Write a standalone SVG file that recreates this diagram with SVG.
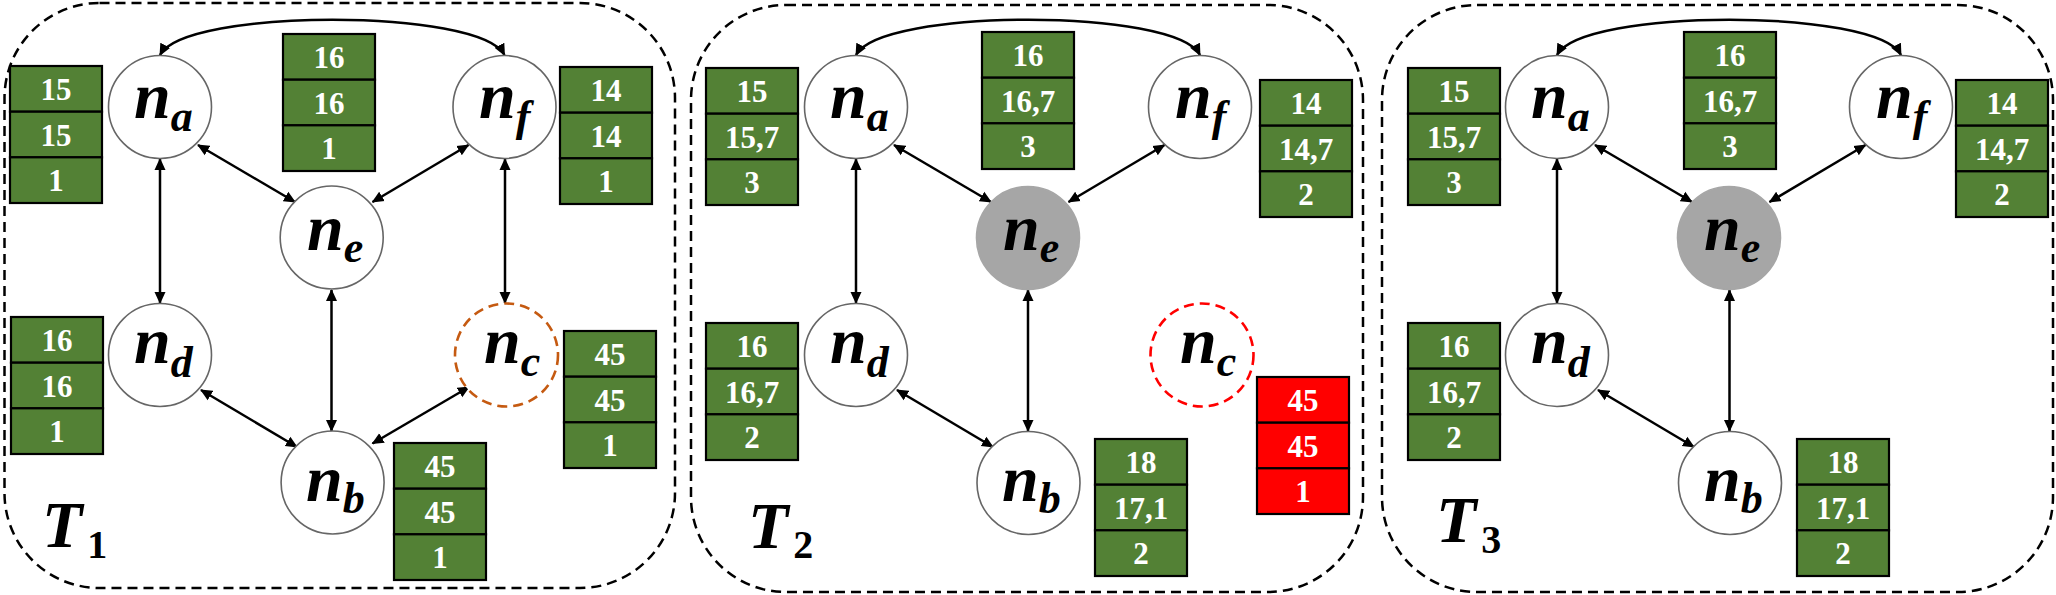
<svg xmlns="http://www.w3.org/2000/svg" width="2056" height="595" viewBox="0 0 2056 595">
<style>
.panel{fill:none;stroke:#000;stroke-width:2.5;stroke-dasharray:10 6}
.node{fill:#fff;stroke:#666;stroke-width:1.6}
.gray{fill:#A6A6A6;stroke:#A6A6A6;stroke-width:1.6}
.cdash1{fill:#fff;stroke:#C55A11;stroke-width:2.6;stroke-dasharray:10 6}
.cdash2{fill:#fff;stroke:#FF0000;stroke-width:2.6;stroke-dasharray:10 6}
.lbl{font-family:"Liberation Serif","Times New Roman",serif;font-weight:bold;font-style:italic;font-size:66px;fill:#000}
.sub{font-size:44px}
.subn{font-size:40px;font-style:normal}
.cell{fill:#538135;stroke:#000;stroke-width:2.2}
.cellr{fill:#FF0000;stroke:#000;stroke-width:2.2}
.num{font-family:"Liberation Serif","Times New Roman",serif;font-weight:bold;font-size:31px;fill:#fff;text-anchor:middle}
.con{fill:none;stroke:#000;stroke-width:2.5;marker-start:url(#ah);marker-end:url(#ah)}
</style>
<defs>
<marker id="ah" viewBox="0 0 12 12" markerWidth="12" markerHeight="12" markerUnits="userSpaceOnUse" refX="11" refY="6" orient="auto-start-reverse">
<path d="M0,0.5 L12,6 L0,11.5 z" fill="#000"/>
</marker>
</defs>

<g id="panels">
<rect class="panel" x="4.5" y="3" width="670.5" height="585" rx="95" ry="95"/>
<rect class="panel" x="691" y="5" width="672" height="587" rx="95" ry="95"/>
<rect class="panel" x="1382" y="5" width="671" height="587" rx="95" ry="95"/>
</g>

<g id="connectors">
<path class="con" d="M160,55 C185,8 480,8 504.5,55"/>
<line class="con" x1="198" y1="145" x2="295" y2="202"/>
<line class="con" x1="468.5" y1="145" x2="372.5" y2="202"/>
<line class="con" x1="160" y1="159" x2="160" y2="303"/>
<line class="con" x1="505" y1="159" x2="505" y2="303"/>
<line class="con" x1="331.5" y1="290" x2="331.5" y2="431"/>
<line class="con" x1="201" y1="390" x2="297" y2="447"/>
<line class="con" x1="469" y1="387" x2="372.5" y2="443.5"/>

<path class="con" d="M856,55 C881,8 1176,8 1200,55"/>
<line class="con" x1="894" y1="145" x2="991" y2="202"/>
<line class="con" x1="1164.5" y1="145" x2="1068.5" y2="202"/>
<line class="con" x1="856" y1="159" x2="856" y2="303"/>
<line class="con" x1="1028" y1="290" x2="1028" y2="431"/>
<line class="con" x1="897" y1="390" x2="993" y2="447"/>

<path class="con" d="M1557,55 C1582,8 1877,8 1901,55"/>
<line class="con" x1="1595" y1="145" x2="1692" y2="202"/>
<line class="con" x1="1865.5" y1="145" x2="1769.5" y2="202"/>
<line class="con" x1="1557" y1="159" x2="1557" y2="303"/>
<line class="con" x1="1729.5" y1="290" x2="1729.5" y2="431"/>
<line class="con" x1="1598" y1="390" x2="1694" y2="447"/>
</g>

<!-- Panel 1 nodes -->
<g id="t1-na"><circle class="node" cx="160" cy="107" r="51.5"/><text class="lbl" x="134" y="118">n<tspan class="sub" dy="13">a</tspan></text></g>
<g id="t1-nf"><circle class="node" cx="504.5" cy="107" r="51.5"/><text class="lbl" x="479" y="118">n<tspan class="sub" dy="13">f</tspan></text></g>
<g id="t1-ne"><circle class="node" cx="331.7" cy="237.5" r="51.5"/><text class="lbl" x="307" y="250">n<tspan class="sub" dy="12">e</tspan></text></g>
<g id="t1-nd"><circle class="node" cx="160" cy="355" r="51.5"/><text class="lbl" x="134" y="363">n<tspan class="sub" dy="14">d</tspan></text></g>
<g id="t1-nc"><circle class="cdash1" cx="506.5" cy="355" r="51.5"/><text class="lbl" x="484" y="363">n<tspan class="sub" dy="13">c</tspan></text></g>
<g id="t1-nb"><circle class="node" cx="332.6" cy="482.5" r="51.5"/><text class="lbl" x="306" y="501">n<tspan class="sub" dy="12">b</tspan></text></g>
<g id="t1-label"><text class="lbl" x="42" y="547" font-size="56">T<tspan class="subn" dx="5" dy="11">1</tspan></text></g>

<!-- Panel 2 nodes -->
<g id="t2-na"><circle class="node" cx="856" cy="107" r="51.5"/><text class="lbl" x="830" y="118">n<tspan class="sub" dy="13">a</tspan></text></g>
<g id="t2-nf"><circle class="node" cx="1200" cy="107" r="51.5"/><text class="lbl" x="1175" y="118">n<tspan class="sub" dy="13">f</tspan></text></g>
<g id="t2-ne"><circle class="gray" cx="1028" cy="238" r="51.5"/><text class="lbl" x="1003" y="250">n<tspan class="sub" dy="12">e</tspan></text></g>
<g id="t2-nd"><circle class="node" cx="856" cy="355" r="51.5"/><text class="lbl" x="830" y="363">n<tspan class="sub" dy="14">d</tspan></text></g>
<g id="t2-nc"><circle class="cdash2" cx="1202" cy="355" r="51.5"/><text class="lbl" x="1180" y="363">n<tspan class="sub" dy="13">c</tspan></text></g>
<g id="t2-nb"><circle class="node" cx="1028.5" cy="483" r="51.5"/><text class="lbl" x="1002" y="501">n<tspan class="sub" dy="12">b</tspan></text></g>
<g id="t2-label"><text class="lbl" x="748" y="548" font-size="56">T<tspan class="subn" dx="5" dy="10">2</tspan></text></g>

<!-- Panel 3 nodes -->
<g id="t3-na"><circle class="node" cx="1557" cy="107" r="51.5"/><text class="lbl" x="1531" y="118">n<tspan class="sub" dy="13">a</tspan></text></g>
<g id="t3-nf"><circle class="node" cx="1901" cy="107" r="51.5"/><text class="lbl" x="1876" y="118">n<tspan class="sub" dy="13">f</tspan></text></g>
<g id="t3-ne"><circle class="gray" cx="1729" cy="238" r="51.5"/><text class="lbl" x="1704" y="250">n<tspan class="sub" dy="12">e</tspan></text></g>
<g id="t3-nd"><circle class="node" cx="1557" cy="355" r="51.5"/><text class="lbl" x="1531" y="363">n<tspan class="sub" dy="14">d</tspan></text></g>
<g id="t3-nb"><circle class="node" cx="1730" cy="483" r="51.5"/><text class="lbl" x="1704" y="501">n<tspan class="sub" dy="12">b</tspan></text></g>
<g id="t3-label"><text class="lbl" x="1436" y="542" font-size="56">T<tspan class="subn" dx="5" dy="11">3</tspan></text></g>

<!-- Tables panel 1 -->
<g id="t1-tab-a"><rect class="cell" x="10" y="66" width="92" height="45.7"/><rect class="cell" x="10" y="111.7" width="92" height="45.7"/><rect class="cell" x="10" y="157.3" width="92" height="45.7"/><text class="num" x="56" y="100">15</text><text class="num" x="56" y="145.7">15</text><text class="num" x="56" y="191.3">1</text></g>
<g id="t1-tab-e"><rect class="cell" x="283" y="34" width="92" height="45.7"/><rect class="cell" x="283" y="79.7" width="92" height="45.7"/><rect class="cell" x="283" y="125.3" width="92" height="45.7"/><text class="num" x="329" y="68">16</text><text class="num" x="329" y="113.7">16</text><text class="num" x="329" y="159.3">1</text></g>
<g id="t1-tab-f"><rect class="cell" x="560" y="67" width="92" height="45.7"/><rect class="cell" x="560" y="112.7" width="92" height="45.7"/><rect class="cell" x="560" y="158.3" width="92" height="45.7"/><text class="num" x="606" y="101">14</text><text class="num" x="606" y="146.7">14</text><text class="num" x="606" y="192.3">1</text></g>
<g id="t1-tab-d"><rect class="cell" x="11" y="317" width="92" height="45.7"/><rect class="cell" x="11" y="362.7" width="92" height="45.7"/><rect class="cell" x="11" y="408.3" width="92" height="45.7"/><text class="num" x="57" y="351">16</text><text class="num" x="57" y="396.7">16</text><text class="num" x="57" y="442.3">1</text></g>
<g id="t1-tab-c"><rect class="cell" x="564" y="331" width="92" height="45.7"/><rect class="cell" x="564" y="376.7" width="92" height="45.7"/><rect class="cell" x="564" y="422.3" width="92" height="45.7"/><text class="num" x="610" y="365">45</text><text class="num" x="610" y="410.7">45</text><text class="num" x="610" y="456.3">1</text></g>
<g id="t1-tab-b"><rect class="cell" x="394" y="443" width="92" height="45.7"/><rect class="cell" x="394" y="488.7" width="92" height="45.7"/><rect class="cell" x="394" y="534.3" width="92" height="45.7"/><text class="num" x="440" y="477">45</text><text class="num" x="440" y="522.7">45</text><text class="num" x="440" y="568.3">1</text></g>

<!-- Tables panel 2 -->
<g id="t2-tab-a"><rect class="cell" x="706" y="68" width="92" height="45.7"/><rect class="cell" x="706" y="113.7" width="92" height="45.7"/><rect class="cell" x="706" y="159.3" width="92" height="45.7"/><text class="num" x="752" y="102">15</text><text class="num" x="752" y="147.7">15,7</text><text class="num" x="752" y="193.3">3</text></g>
<g id="t2-tab-e"><rect class="cell" x="982" y="32" width="92" height="45.7"/><rect class="cell" x="982" y="77.7" width="92" height="45.7"/><rect class="cell" x="982" y="123.3" width="92" height="45.7"/><text class="num" x="1028" y="66">16</text><text class="num" x="1028" y="111.7">16,7</text><text class="num" x="1028" y="157.3">3</text></g>
<g id="t2-tab-f"><rect class="cell" x="1260" y="80" width="92" height="45.7"/><rect class="cell" x="1260" y="125.7" width="92" height="45.7"/><rect class="cell" x="1260" y="171.3" width="92" height="45.7"/><text class="num" x="1306" y="114">14</text><text class="num" x="1306" y="159.7">14,7</text><text class="num" x="1306" y="205.3">2</text></g>
<g id="t2-tab-d"><rect class="cell" x="706" y="323" width="92" height="45.7"/><rect class="cell" x="706" y="368.7" width="92" height="45.7"/><rect class="cell" x="706" y="414.3" width="92" height="45.7"/><text class="num" x="752" y="357">16</text><text class="num" x="752" y="402.7">16,7</text><text class="num" x="752" y="448.3">2</text></g>
<g id="t2-tab-b"><rect class="cell" x="1095" y="439" width="92" height="45.7"/><rect class="cell" x="1095" y="484.7" width="92" height="45.7"/><rect class="cell" x="1095" y="530.3" width="92" height="45.7"/><text class="num" x="1141" y="473">18</text><text class="num" x="1141" y="518.7">17,1</text><text class="num" x="1141" y="564.3">2</text></g>
<g id="t2-tab-c"><rect class="cellr" x="1257" y="377" width="92" height="45.7"/><rect class="cellr" x="1257" y="422.7" width="92" height="45.7"/><rect class="cellr" x="1257" y="468.3" width="92" height="45.7"/><text class="num" x="1303" y="411">45</text><text class="num" x="1303" y="456.7">45</text><text class="num" x="1303" y="502.3">1</text></g>

<!-- Tables panel 3 -->
<g id="t3-tab-a"><rect class="cell" x="1408" y="68" width="92" height="45.7"/><rect class="cell" x="1408" y="113.7" width="92" height="45.7"/><rect class="cell" x="1408" y="159.3" width="92" height="45.7"/><text class="num" x="1454" y="102">15</text><text class="num" x="1454" y="147.7">15,7</text><text class="num" x="1454" y="193.3">3</text></g>
<g id="t3-tab-e"><rect class="cell" x="1684" y="32" width="92" height="45.7"/><rect class="cell" x="1684" y="77.7" width="92" height="45.7"/><rect class="cell" x="1684" y="123.3" width="92" height="45.7"/><text class="num" x="1730" y="66">16</text><text class="num" x="1730" y="111.7">16,7</text><text class="num" x="1730" y="157.3">3</text></g>
<g id="t3-tab-f"><rect class="cell" x="1956" y="80" width="92" height="45.7"/><rect class="cell" x="1956" y="125.7" width="92" height="45.7"/><rect class="cell" x="1956" y="171.3" width="92" height="45.7"/><text class="num" x="2002" y="114">14</text><text class="num" x="2002" y="159.7">14,7</text><text class="num" x="2002" y="205.3">2</text></g>
<g id="t3-tab-d"><rect class="cell" x="1408" y="323" width="92" height="45.7"/><rect class="cell" x="1408" y="368.7" width="92" height="45.7"/><rect class="cell" x="1408" y="414.3" width="92" height="45.7"/><text class="num" x="1454" y="357">16</text><text class="num" x="1454" y="402.7">16,7</text><text class="num" x="1454" y="448.3">2</text></g>
<g id="t3-tab-b"><rect class="cell" x="1797" y="439" width="92" height="45.7"/><rect class="cell" x="1797" y="484.7" width="92" height="45.7"/><rect class="cell" x="1797" y="530.3" width="92" height="45.7"/><text class="num" x="1843" y="473">18</text><text class="num" x="1843" y="518.7">17,1</text><text class="num" x="1843" y="564.3">2</text></g>
</svg>
